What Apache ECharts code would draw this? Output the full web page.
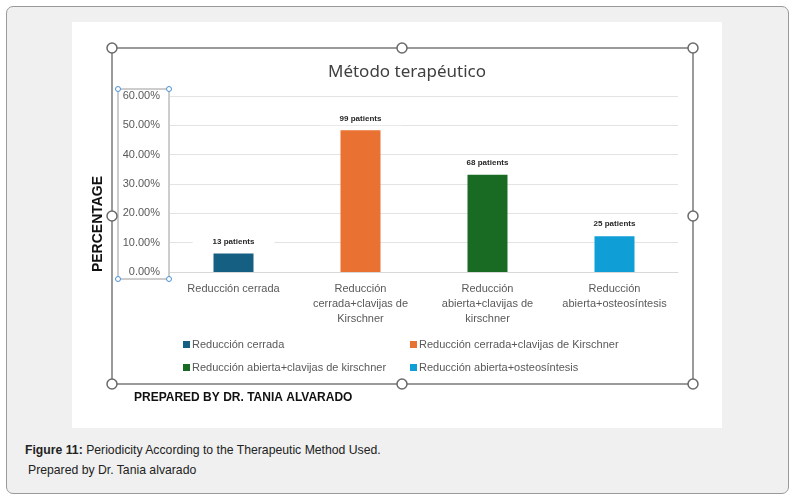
<!DOCTYPE html>
<html>
<head>
<meta charset="utf-8">
<script src="https://cdn.jsdelivr.net/npm/echarts@6/dist/echarts.min.js"></script>
<style>
  body { margin: 0; background: #fff; }
  #page { position: relative; width: 800px; height: 499px; }
  #frame { position: absolute; left: 6px; top: 6px; width: 781px; height: 486px;
           background: #f0f0f0; border: 1px solid #9a9a9a; border-radius: 7px; }
  #panel { position: absolute; left: 72px; top: 22px; width: 650px; height: 406px; background: #fff; }
  #main { position: absolute; left: 0; top: 0; width: 800px; height: 499px; }
  .cap { position: absolute; font-family: "Liberation Sans", Arial, sans-serif; white-space: nowrap;
         font-size: 13px; color: #222; transform: scaleX(0.94); transform-origin: left center; }
</style>
</head>
<body>
<div id="page">
  <div id="frame"></div>
  <div id="panel"></div>
  <div class="cap" style="left:25px; top:442px;"><b>Figure 11:</b> Periodicity According to the Therapeutic Method Used.</div>
  <div class="cap" style="left:28px; top:462px;">Prepared by Dr. Tania alvarado</div>
  <div id="main"></div>
</div>
<script>
// data
var categories = ['Reducción cerrada', 'Reducción cerrada+clavijas de Kirschner',
                  'Reducción abierta+clavijas de kirschner', 'Reducción abierta+osteosíntesis'];
var tickLabels = ['Reducción cerrada', 'Reducción\ncerrada+clavijas de\nKirschner',
                  'Reducción\nabierta+clavijas de\nkirschner', 'Reducción\nabierta+osteosíntesis'];
var percentages = [6.34, 48.29, 33.17, 12.20];
var patients = [13, 99, 68, 25];
var colors = ['#156082', '#E97132', '#196B24', '#0F9ED5'];

var chart = echarts.init(document.getElementById('main'), null, { renderer: 'canvas' });

var series = categories.map(function (name, i) {
    var d = categories.map(function (c, j) { return j === i ? percentages[i] : '-'; });
    return {
        name: name,
        type: 'bar',
        stack: 'all',
        barWidth: 40,
        data: d,
        itemStyle: { color: colors[i] },
        label: {
            show: true,
            position: 'top',
            distance: 5,
            formatter: function (p) { return patients[p.dataIndex] + ' patients'; },
            fontFamily: 'Liberation Sans',
            fontSize: 8,
            fontWeight: 'bold',
            color: '#262626',
            backgroundColor: '#fff',
            padding: [3, 20]
        }
    };
});

var handles = [[112, 48], [402, 48], [693, 48], [112, 216], [693, 216], [112, 384], [402, 384], [693, 384]];
var smallHandles = [[118, 89], [169, 89], [118, 279], [169, 279]];

var graphics = [
    { type: 'rect', shape: { x: 112, y: 48, width: 581, height: 336 }, z: 50,
      style: { fill: 'none', stroke: '#7a7a7a', lineWidth: 1.5 } },
    { type: 'rect', shape: { x: 118, y: 89, width: 51, height: 190 }, z: 50,
      style: { fill: 'none', stroke: '#9a9a9a', lineWidth: 1 } },
    { type: 'text', x: 98, y: 224, rotation: Math.PI / 2, z: 50,
      style: { text: 'PERCENTAGE', fill: '#111', align: 'center', verticalAlign: 'middle',
               font: 'bold 14px "Liberation Sans", Arial, sans-serif' } },
    { type: 'text', left: 134, top: 392, z: 50,
      style: { text: 'PREPARED BY DR. TANIA ALVARADO', fill: '#111',
               font: 'bold 12px "Liberation Sans", Arial, sans-serif' } }
];
handles.forEach(function (h) {
    graphics.push({ type: 'circle', shape: { cx: h[0], cy: h[1], r: 5 }, z: 51,
                    style: { fill: '#fff', stroke: '#6a6a6a', lineWidth: 1.5 } });
});
smallHandles.forEach(function (h) {
    graphics.push({ type: 'circle', shape: { cx: h[0], cy: h[1], r: 2.5 }, z: 51,
                    style: { fill: '#fff', stroke: '#4a90d9', lineWidth: 1 } });
});

chart.setOption({
    backgroundColor: 'transparent',
    animation: false,
    title: {
        text: 'Método terapéutico',
        left: 402,
        textAlign: 'center',
        top: 59,
        textStyle: { fontFamily: 'Noto Sans', fontSize: 17, fontWeight: 'normal', color: '#404040' }
    },
    grid: { left: 170, right: 122, top: 96, bottom: 227 },
    legend: [
        { data: [categories[0], categories[2]], orient: 'vertical', left: 178, top: 334,
          itemGap: 12, itemWidth: 7, itemHeight: 7, icon: 'rect',
          textStyle: { fontFamily: 'Liberation Sans', fontSize: 11, color: '#595959', padding: [0, 0, 0, -3] } },
        { data: [categories[1], categories[3]], orient: 'vertical', left: 405, top: 334,
          itemGap: 12, itemWidth: 7, itemHeight: 7, icon: 'rect',
          textStyle: { fontFamily: 'Liberation Sans', fontSize: 11, color: '#595959', padding: [0, 0, 0, -3] } }
    ],
    xAxis: {
        type: 'category',
        data: categories,
        axisTick: { show: false },
        axisLine: { lineStyle: { color: '#d9d9d9' } },
        axisLabel: {
            formatter: function (v, i) { return tickLabels[i]; },
            interval: 0,
            margin: 9,
            lineHeight: 15,
            fontFamily: 'Liberation Sans',
            fontSize: 11,
            color: '#595959'
        }
    },
    yAxis: {
        type: 'value',
        min: 0,
        max: 60,
        interval: 10,
        axisLabel: {
            formatter: function (v) { return v.toFixed(2) + '%'; },
            margin: 10,
            fontFamily: 'Liberation Sans',
            fontSize: 11,
            color: '#595959'
        },
        splitLine: { lineStyle: { color: '#e3e3e3' } }
    },
    series: series,
    graphic: graphics
});
</script>
</body>
</html>
